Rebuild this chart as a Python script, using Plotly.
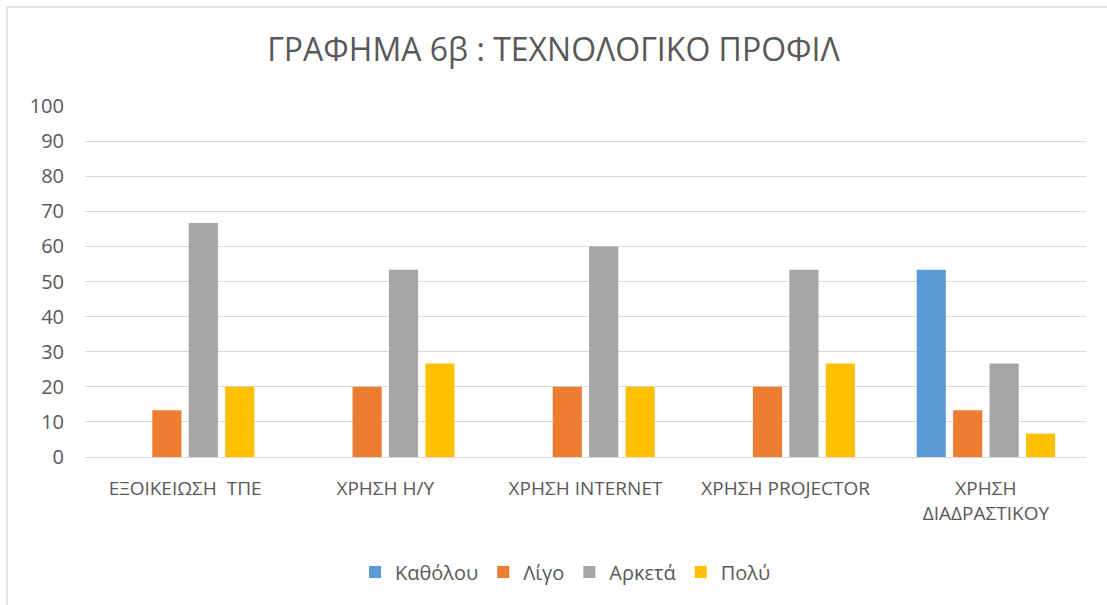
import plotly.graph_objects as go

categories = ["ΕΞΟΙΚΕΙΩΣΗ  ΤΠΕ", "ΧΡΗΣΗ Η/Υ", "ΧΡΗΣΗ INTERNET", "ΧΡΗΣΗ PROJECTOR", "ΧΡΗΣΗ<br>ΔΙΑΔΡΑΣΤΙΚΟΥ"]
series_names = ["Καθόλου", "Λίγο", "Αρκετά", "Πολύ"]
katholou = [0, 0, 0, 0, 53.33]
ligo = [13.33, 20, 20, 20, 13.33]
arketa = [66.67, 53.33, 60, 53.33, 26.67]
poly = [20, 26.67, 20, 26.67, 6.67]
colors = ["#5B9BD5", "#ED7D31", "#A5A5A5", "#FFC000"]
y_ticks = [0, 10, 20, 30, 40, 50, 60, 70, 80, 90, 100]

W, H = 1107, 605
L, R, T, B = 85, 21, 106, 148
pw, ph = W - L - R, H - T - B

fig = go.Figure()
for name, vals, c in zip(series_names, [katholou, ligo, arketa, poly], colors):
    fig.add_trace(go.Bar(x=categories, y=vals, name=name, marker_color=c,
                         marker_line_width=0))

font_family = "Open Sans, Noto Sans, sans-serif"
fig.update_layout(
    width=W, height=H,
    margin=dict(l=L, r=R, t=T, b=B),
    paper_bgcolor="white", plot_bgcolor="white",
    barmode="group", bargap=0.272, bargroupgap=0.2,
    font=dict(family=font_family, color="#595959", size=19),
    title=dict(text="ΓΡΑΦΗΜΑ 6β : ΤΕΧΝΟΛΟΓΙΚΟ ΠΡΟΦΙΛ", x=0.5, xanchor="center",
               y=1 - 50 / H, yanchor="middle",
               font=dict(size=32, color="#595959", family=font_family)),
    xaxis=dict(showgrid=False, showline=True, linecolor="#D9D9D9", linewidth=1,
               ticks="", tickfont=dict(size=19, color="#595959"),
               ticklabelstandoff=14),
    yaxis=dict(range=[0, 100], tickvals=y_ticks, showgrid=True, gridcolor="#D9D9D9",
               gridwidth=1, zeroline=False, showline=False, ticks="",
               tickfont=dict(size=20, color="#595959"), ticklabelstandoff=20),
    legend=dict(orientation="h", x=(565.5 - L) / pw, xanchor="center", y=(457 - 572) / ph,
                yanchor="middle", font=dict(size=20, color="#595959"),
                itemwidth=30, traceorder="normal"),
    showlegend=True,
)
# outer chart border
x0 = (7 - L) / pw
y1 = (H - B - 7) / ph
fig.add_shape(type="rect", xref="paper", yref="paper", x0=x0, x1=(W + 5 - L) / pw,
              y0=-(B + 5) / ph, y1=y1, line=dict(color="#D9D9D9", width=1.5),
              fillcolor="rgba(0,0,0,0)", layer="below")

fig.write_html("out.html", config={"displayModeBar": False},
               post_script="document.body.style.margin='0';document.body.style.overflow='hidden';")
